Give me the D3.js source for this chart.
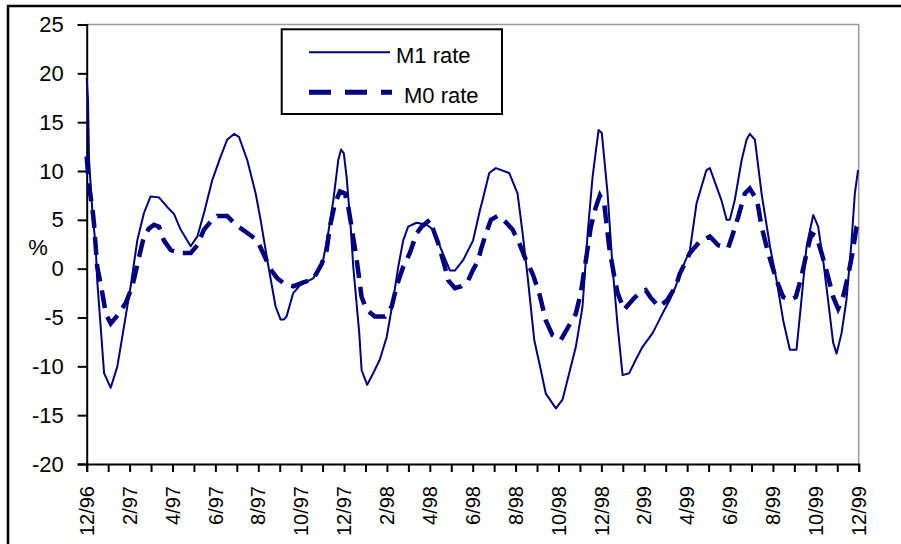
<!DOCTYPE html>
<html>
<head>
<meta charset="utf-8">
<script src="https://cdn.jsdelivr.net/npm/d3@7"></script>
<style>
  html, body { margin: 0; padding: 0; background: #fff; }
  svg { display: block; font-family: Arial, "Liberation Sans", sans-serif; }
</style>
</head>
<body>
<svg id="chart" width="901" height="544"></svg>
<script>
// ---- data (time in months since 12/96) ----
const xTickLabels = ["12/96","2/97","4/97","6/97","8/97","10/97","12/97","2/98","4/98","6/98","8/98","10/98","12/98","2/99","4/99","6/99","8/99","10/99","12/99"];
const yTicks = [-20,-15,-10,-5,0,5,10,15,20,25];

const m1Time = [0,0.06,0.11,0.26,0.42,0.49,0.65,0.81,1.12,1.43,1.74,2.05,2.36,2.67,2.98,3.37,3.76,4.07,4.38,4.85,5.16,5.47,5.86,6.25,6.55,6.87,7.10,7.49,7.88,8.11,8.42,8.81,9.04,9.20,9.32,9.63,9.94,10.56,11.03,11.26,11.50,11.73,11.86,11.99,12.12,12.31,12.43,12.71,12.82,13.08,13.36,13.67,13.99,14.29,14.53,14.76,14.99,15.38,15.85,16.16,16.47,16.94,17.17,17.56,18.02,18.34,18.46,18.77,19.08,19.70,20.09,20.33,20.56,20.87,21.18,21.41,21.88,22.19,22.50,22.81,23.12,23.36,23.59,23.87,24.02,24.29,24.52,24.76,24.99,25.30,25.61,25.92,26.39,26.85,27.19,27.47,27.66,28.13,28.44,28.67,28.90,29.06,29.37,29.60,29.84,29.99,30.22,30.54,30.77,30.92,31.16,31.47,31.86,32.17,32.48,32.79,33.10,33.33,33.57,33.88,34.11,34.34,34.57,34.81,34.97,35.20,35.43,35.66,35.82,35.97];
const m1Rate = [19.5,17.3,11.1,6.0,2.25,-1.2,-5.9,-10.7,-12.2,-10.0,-5.9,-1.8,2.9,5.7,7.4,7.3,6.3,5.6,4.0,2.3,3.3,5.7,9.1,11.5,13.2,13.8,13.5,11.1,7.7,5.0,0.9,-3.9,-5.2,-5.2,-4.9,-2.5,-1.7,-1.0,0.9,3.6,7.0,11.1,12.2,11.8,9.4,4.3,0.2,-6.6,-10.4,-11.9,-10.7,-9.3,-7.0,-3.2,0.2,2.9,4.3,4.7,4.5,4.0,2.3,-0.2,-0.2,0.9,2.9,6.0,7.0,9.8,10.3,9.8,7.7,3.6,-0.8,-7.3,-10.4,-12.8,-14.3,-13.4,-10.7,-8.0,-3.9,3.6,9.4,14.2,13.9,7.7,0.2,-5.9,-10.9,-10.7,-9.3,-8.0,-6.6,-4.6,-3.2,-1.8,-0.5,1.9,6.7,8.4,10.1,10.3,8.4,7.0,5.0,5.0,7.0,11.1,13.2,13.8,13.2,7.7,2.3,-1.2,-5.3,-8.3,-8.3,-3.2,2.3,5.5,4.3,0.9,-3.2,-7.6,-8.7,-6.6,-3.2,2.6,7.7,10.1];

const m0Time = [0,0.11,0.26,0.34,0.49,0.73,0.89,1.12,1.51,1.82,2.13,2.44,2.67,2.90,3.14,3.37,3.60,3.92,4.38,4.85,5.16,5.47,5.78,6.09,6.55,6.95,7.65,7.95,8.27,8.58,8.89,9.20,9.63,10.10,10.56,10.96,11.19,11.34,11.58,11.81,12.04,12.20,12.40,12.59,12.82,13.05,13.44,13.91,14.22,14.45,14.76,15.07,15.38,15.62,16.00,16.16,16.39,16.70,16.86,17.17,17.48,17.79,18.02,18.25,18.39,18.62,18.85,19.16,19.40,19.86,20.17,20.48,20.79,21.10,21.41,21.72,22.11,22.42,22.81,23.04,23.28,23.51,23.74,23.93,24.13,24.36,24.60,24.76,25.06,25.45,25.76,26.07,26.31,26.69,27.08,27.47,27.66,28.13,28.60,29.06,29.45,29.91,30.14,30.38,30.69,30.92,31.26,31.47,31.78,32.17,32.48,32.79,33.07,33.33,33.57,33.80,34.03,34.27,34.57,34.81,35.04,35.27,35.50,35.71,35.90,36.0];
const m0Rate = [11.5,8.4,6.3,4.6,0.2,-2.5,-4.6,-5.6,-4.6,-3.5,-1.8,1.2,3.3,4.1,4.5,4.3,2.9,1.9,1.6,1.6,2.4,4.0,4.8,5.4,5.4,4.5,3.4,2.9,1.4,-0.1,-1.0,-1.5,-1.8,-1.4,-1.1,0.5,1.9,4.3,6.7,7.9,7.7,6.3,3.6,0.9,-2.9,-4.2,-4.9,-4.9,-3.9,-1.8,0.2,1.6,3.6,4.3,5.0,4.0,2.6,0.2,-1.2,-2.0,-1.8,-1.2,-0.1,0.8,2.0,3.6,5.0,5.4,5.1,4.0,2.6,0.9,-0.5,-2.5,-5.3,-6.8,-7.3,-6.1,-4.6,-2.5,0.9,4.3,6.3,7.5,6.7,2.3,-0.8,-2.5,-4.2,-3.2,-2.5,-2.2,-3.0,-3.9,-3.2,-1.8,-0.5,1.6,2.8,3.3,2.4,2.1,3.6,5.3,7.7,8.2,7.0,4.3,1.6,-1.2,-2.9,-3.2,-2.9,-0.8,1.6,3.6,3.3,1.6,-0.8,-2.9,-4.1,-2.9,-0.8,1.6,4.3,4.6];

const seriesNames = ["M1 rate", "M0 rate"];

// ---- drawing ----
const svg = d3.select("#chart");
const color = "#000080";
const L = 86.7, R = 858.7, T = 24.5, B = 464;

const x = d3.scaleLinear().domain([0, 36]).range([L, R]);
const y = d3.scaleLinear().domain([-20, 25]).range([B, T]);

// outer frame (cropped at right/bottom)
svg.append("rect").attr("x", 8).attr("y", 6).attr("width", 1000).attr("height", 1000)
  .attr("fill", "none").attr("stroke", "#000").attr("stroke-width", 2.5);

// plot area border (gray top/right)
svg.append("path")
  .attr("d", `M${L},${T}H${R}V${B}`)
  .attr("fill", "none").attr("stroke", "#999").attr("stroke-width", 1.5);

// Y axis
const yAxis = d3.axisLeft(y).tickValues(yTicks).tickSize(9).tickPadding(14).tickFormat(d3.format("d"));
const gy = svg.append("g").attr("transform", `translate(${L},0)`).call(yAxis);
gy.select(".domain").attr("stroke", "#000").attr("stroke-width", 2);
gy.selectAll(".tick line").attr("stroke", "#000").attr("stroke-width", 2);
gy.selectAll(".tick text").attr("font-size", 22).attr("fill", "#000")
  .attr("font-family", "Arial, 'Liberation Sans', sans-serif")
  .text(d => d < 0 ? "-" + Math.abs(d) : d);

// X axis (monthly ticks, labels every 2 months)
const months = d3.range(0, 37);
const xAxis = d3.axisBottom(x).tickValues(months).tickSize(8).tickFormat("");
const gx = svg.append("g").attr("transform", `translate(0,${B})`).call(xAxis);
gx.select(".domain").attr("stroke", "#000").attr("stroke-width", 2);
gx.selectAll(".tick line").attr("stroke", "#000").attr("stroke-width", 2);

svg.append("g").selectAll("text").data(xTickLabels).join("text")
  .attr("transform", (d, i) => `translate(${x(i * 2)},${B + 22}) rotate(-90)`)
  .attr("text-anchor", "end")
  .attr("dy", "0.36em")
  .attr("font-size", 20)
  .attr("fill", "#000")
  .text(d => d);

// y label
svg.append("text").attr("x", 38).attr("y", 255).attr("text-anchor", "middle")
  .attr("font-size", 22).attr("fill", "#000").text("%");

// lines
const m1 = m1Time.map((t, i) => [t, m1Rate[i]]);
const m0 = m0Time.map((t, i) => [t, m0Rate[i]]);
const line = d3.line().x(d => x(d[0])).y(d => y(d[1]));

svg.append("path").datum(m1).attr("d", line)
  .attr("fill", "none").attr("stroke", color).attr("stroke-width", 2).attr("stroke-linejoin", "round");
svg.append("path").datum(m0).attr("d", line)
  .attr("fill", "none").attr("stroke", color).attr("stroke-width", 4.5)
  .attr("stroke-dasharray", "18,9");

// legend
const lg = svg.append("g");
lg.append("rect").attr("x", 281.7).attr("y", 29.3).attr("width", 220.3).attr("height", 84.7)
  .attr("fill", "#fff").attr("stroke", "#000").attr("stroke-width", 2);
lg.append("line").attr("x1", 309).attr("x2", 390).attr("y1", 52.3).attr("y2", 52.3)
  .attr("stroke", color).attr("stroke-width", 2);
lg.append("text").attr("x", 396).attr("y", 63).attr("font-size", 22).attr("fill", "#000").text(seriesNames[0]);
lg.append("line").attr("x1", 309).attr("x2", 392).attr("y1", 92.3).attr("y2", 92.3)
  .attr("stroke", color).attr("stroke-width", 5).attr("stroke-dasharray", "22,14");
lg.append("text").attr("x", 404).attr("y", 102.7).attr("font-size", 22).attr("fill", "#000").text(seriesNames[1]);
</script>
</body>
</html>
